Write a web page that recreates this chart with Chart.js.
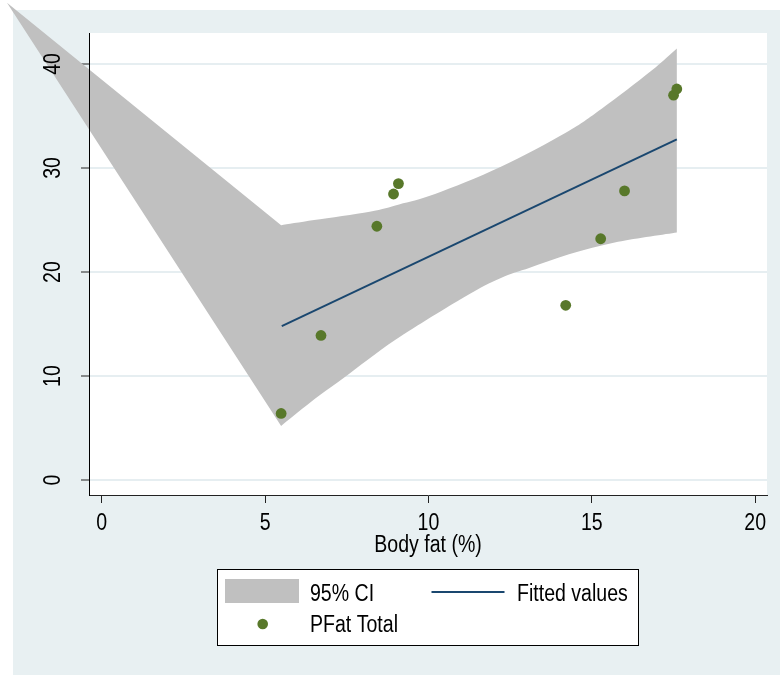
<!DOCTYPE html>
<html>
<head>
<meta charset="utf-8">
<script src="https://cdn.jsdelivr.net/npm/chart.js@4"></script>
<style>
  html, body { margin: 0; padding: 0; background: #fff; }
  #wrap { width: 780px; height: 675px; }
</style>
</head>
<body>
<div id="wrap"><canvas id="myChart" width="780" height="675"></canvas></div>
<script>
// PFat Total vs body fat
const bodyFat = [5.49, 6.71, 8.42, 8.93, 9.08, 14.2, 15.27, 16.0, 17.5, 17.6];
const pfatTotal = [6.4, 13.9, 24.4, 27.5, 28.5, 16.8, 23.2, 27.8, 37.0, 37.6];

// fitted values (end points of the line)
const fitX = [5.51, 17.6];
const fitY = [14.8, 32.75];

// 95% CI band (incl. the stray first vertex)
const ciStart = [-2.9, 45.9];
const ciUpperX = [5.49, 6.5, 8.2, 9.1, 10.2, 12.2, 14.2, 15.3, 16.8, 17.6];
const ciUpperY = [24.5, 25.0, 25.8, 26.5, 27.5, 30.1, 33.4, 35.7, 39.3, 41.5];
const ciLowerX = [5.49, 6.4, 7.4, 9.0, 11.1, 12.2, 13.1, 14.3, 15.8, 17.6];
const ciLowerY = [5.2, 7.5, 9.8, 13.5, 17.6, 19.4, 20.4, 21.7, 22.9, 23.8];

const xTicks = [0, 5, 10, 15, 20];
const yTicks = [0, 10, 20, 30, 40];
const xTitle = 'Body fat (%)';

const FONT = "'Liberation Sans', Arial, sans-serif";
const SQUEEZE = 0.85;
const BG = '#E8F0F2';
const BAND = '#C0C0C0';
const NAVY = '#1A476F';
const GREEN = '#58782A';

// narrow text like the Stata export
function text(ctx, str, x, y, align) {
  ctx.save();
  ctx.translate(x, y);
  ctx.scale(SQUEEZE, 1);
  ctx.textAlign = align || 'left';
  ctx.textBaseline = 'alphabetic';
  ctx.fillText(str, 0, 0);
  ctx.restore();
}

// smooth curve through pixel points (catmull-rom)
function smoothTo(ctx, pts) {
  for (let i = 0; i < pts.length - 1; i++) {
    const p0 = pts[Math.max(i - 1, 0)], p1 = pts[i], p2 = pts[i + 1], p3 = pts[Math.min(i + 2, pts.length - 1)];
    ctx.bezierCurveTo(
      p1.x + (p2.x - p0.x) / 6, p1.y + (p2.y - p0.y) / 6,
      p2.x - (p3.x - p1.x) / 6, p2.y - (p3.y - p1.y) / 6,
      p2.x, p2.y);
  }
}

const stataLook = {
  id: 'stataLook',
  beforeDraw(chart) {
    const { ctx, chartArea } = chart;
    ctx.save();
    ctx.fillStyle = '#fff';
    ctx.fillRect(0, 0, chart.width, chart.height);
    ctx.fillStyle = BG;
    ctx.fillRect(13, 10, chart.width - 13, chart.height - 10);
    ctx.fillStyle = '#fff';
    ctx.fillRect(chartArea.left, chartArea.top, chartArea.right - chartArea.left, chartArea.bottom - chartArea.top);
    ctx.restore();
  },
  beforeDatasetsDraw(chart) {
    const { ctx } = chart;
    const sx = chart.scales.x, sy = chart.scales.y;
    const px = (x, y) => ({ x: sx.getPixelForValue(x), y: sy.getPixelForValue(y) });
    const upper = ciUpperX.map((x, i) => px(x, ciUpperY[i]));
    const lower = ciLowerX.map((x, i) => px(x, ciLowerY[i])).reverse();
    const start = px(ciStart[0], ciStart[1]);
    ctx.save();
    ctx.fillStyle = BAND;
    ctx.beginPath();
    ctx.moveTo(start.x, start.y);
    ctx.lineTo(upper[0].x, upper[0].y);
    smoothTo(ctx, upper);
    ctx.lineTo(lower[0].x, lower[0].y);
    smoothTo(ctx, lower);
    ctx.closePath();
    ctx.fill();
    ctx.restore();
  },
  afterDraw(chart) {
    const { ctx } = chart;
    const sx = chart.scales.x, sy = chart.scales.y;
    ctx.save();
    ctx.fillStyle = '#000';
    ctx.font = '23px ' + FONT;
    // y tick labels, rotated like Stata
    yTicks.forEach(v => {
      ctx.save();
      ctx.translate(59.5, sy.getPixelForValue(v));
      ctx.rotate(-Math.PI / 2);
      text(ctx, String(v), 0, 0, 'center');
      ctx.restore();
    });
    // x tick labels and title
    xTicks.forEach(v => text(ctx, String(v), sx.getPixelForValue(v), 530, 'center'));
    text(ctx, xTitle, (chart.chartArea.left + chart.chartArea.right) / 2, 552, 'center');

    // legend
    ctx.fillStyle = '#fff';
    ctx.fillRect(217.5, 569.5, 421, 76);
    ctx.strokeStyle = '#000';
    ctx.lineWidth = 1;
    ctx.strokeRect(217.5, 569.5, 421, 76);
    ctx.fillStyle = BAND;
    ctx.fillRect(225, 579, 74, 24);
    ctx.strokeStyle = NAVY;
    ctx.lineWidth = 2;
    ctx.beginPath();
    ctx.moveTo(431.5, 592);
    ctx.lineTo(504.5, 592);
    ctx.stroke();
    ctx.fillStyle = GREEN;
    ctx.beginPath();
    ctx.arc(262.7, 624, 5.3, 0, Math.PI * 2);
    ctx.fill();
    ctx.fillStyle = '#000';
    text(ctx, '95% CI', 310, 601);
    text(ctx, 'Fitted values', 517, 601);
    text(ctx, 'PFat Total', 310, 632);
    ctx.restore();
  }
};

const ctx = document.getElementById('myChart').getContext('2d');
const chart = new Chart(ctx, {
  type: 'scatter',
  data: {
    datasets: [
      {
        label: 'PFat Total',
        data: bodyFat.map((x, i) => ({ x: x, y: pfatTotal[i] })),
        backgroundColor: GREEN,
        borderColor: GREEN,
        borderWidth: 0,
        pointRadius: 5.4,
        showLine: false
      },
      {
        label: 'Fitted values',
        data: fitX.map((x, i) => ({ x: x, y: fitY[i] })),
        borderColor: NAVY,
        borderWidth: 2,
        pointRadius: 0,
        showLine: true
      }
    ]
  },
  options: {
    responsive: false,
    animation: false,
    layout: { padding: { top: 33, right: 13, left: 0, bottom: 0 } },
    plugins: { legend: { display: false }, tooltip: { enabled: false } },
    scales: {
      x: {
        type: 'linear',
        min: -0.39,
        max: 20.36,
        afterBuildTicks: s => { s.ticks = xTicks.map(v => ({ value: v })); },
        afterFit: s => { s.height = 180; },
        grid: { drawOnChartArea: false, drawTicks: true, tickLength: 8, tickColor: '#222', tickWidth: 1 },
        border: { display: true, color: '#222', width: 1 },
        ticks: { color: 'rgba(0,0,0,0)', font: { family: FONT, size: 23 }, maxRotation: 0 }
      },
      y: {
        type: 'linear',
        min: -1.44,
        max: 42.98,
        afterBuildTicks: s => { s.ticks = yTicks.map(v => ({ value: v })); },
        afterFit: s => { s.width = 89; },
        grid: { color: '#E6EEF1', lineWidth: 2, drawTicks: true, tickLength: 8, tickColor: '#222', tickWidth: 1 },
        border: { display: true, color: '#000', width: 1, z: 1 },
        ticks: { color: 'rgba(0,0,0,0)', font: { family: FONT, size: 23 } }
      }
    }
  },
  plugins: [stataLook]
});
</script>
</body>
</html>
